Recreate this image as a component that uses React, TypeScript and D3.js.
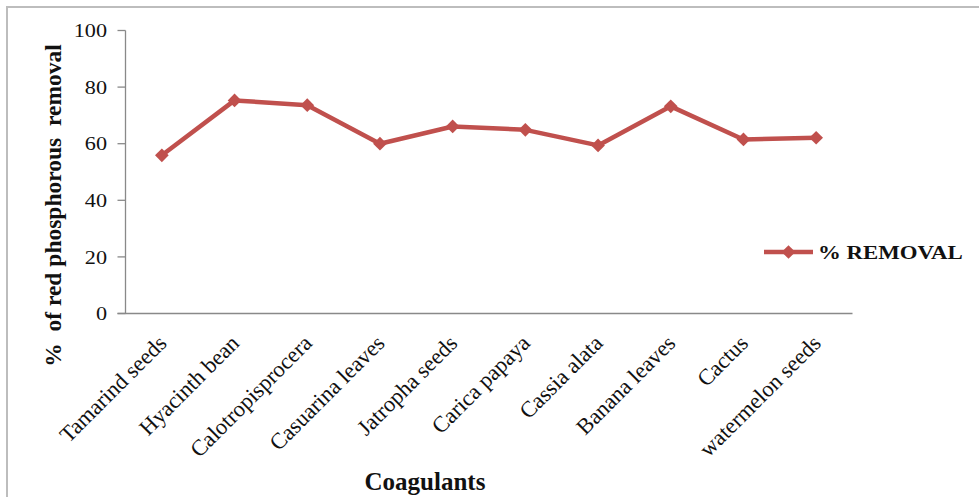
import React from "react";
import * as d3 from "d3";

// Coagulant categories and their % removal of red phosphorous
const categories: string[] = [
  "Tamarind seeds",
  "Hyacinth bean",
  "Calotropisprocera",
  "Casuarina leaves",
  "Jatropha seeds",
  "Carica papaya",
  "Cassia alata",
  "Banana leaves",
  "Cactus",
  "watermelon seeds",
];
const removal: number[] = [55.9, 75.3, 73.6, 60.0, 66.1, 64.9, 59.4, 73.2, 61.5, 62.1];
const yTicks: number[] = [0, 20, 40, 60, 80, 100];
const seriesName = "% REMOVAL";
const xTitle = "Coagulants";
const yTitle = "%  of red phosphorous  removal";

const W = 979;
const H = 497;
const plot = { left: 125.5, right: 852.5, top: 30.5, bottom: 313.5 };
const serif = "'Liberation Serif', 'Times New Roman', serif";
const lineColor = "#C0504D";
const axisColor = "#898989";
const textColor = "#111";
const stretch = 1.17; // horizontal widening of the Times-style glyphs

export default function App() {
  const x = d3
    .scaleBand<string>()
    .domain(categories)
    .range([plot.left, plot.right])
    .paddingInner(0)
    .paddingOuter(0);
  const y = d3.scaleLinear().domain([0, 100]).range([plot.bottom, plot.top]);
  const cx = (c: string) => (x(c) ?? 0) + x.bandwidth() / 2;

  const line = d3
    .line<number>()
    .x((_, i) => cx(categories[i]))
    .y((v) => y(v));

  const diamond = d3.symbol().type(d3.symbolDiamond2).size(120)();

  return (
    <div style={{ position: "absolute", left: 0, top: 0 }}>
      <svg width={W} height={H} style={{ display: "block", background: "#fff" }}>
        {/* frame */}
        <rect x={7} y={7} width={W + 20} height={H + 20} fill="none" stroke="#bdbdbd" strokeWidth={2} />

        {/* y axis */}
        <line x1={plot.left} x2={plot.left} y1={plot.top} y2={plot.bottom} stroke={axisColor} strokeWidth={1.3} />
        {yTicks.map((t) => (
          <g key={t}>
            <line x1={plot.left - 8} x2={plot.left} y1={y(t)} y2={y(t)} stroke={axisColor} strokeWidth={1.3} />
            <text
              transform={`translate(107,${y(t)}) scale(${stretch},1)`}
              dy="0.35em"
              textAnchor="end"
              fontFamily={serif}
              fontSize={19}
              fill={textColor}
            >
              {t}
            </text>
          </g>
        ))}

        {/* x axis */}
        <line x1={plot.left - 8} x2={plot.right} y1={plot.bottom} y2={plot.bottom} stroke={axisColor} strokeWidth={1.3} />
        {categories.map((c) => (
          <text
            key={c}
            transform={`translate(${cx(c) + 6},${plot.bottom + 31}) rotate(-45)`}
            textAnchor="end"
            fontFamily={serif}
            fontSize={22.5}
            fill={textColor}
          >
            {c}
          </text>
        ))}

        {/* series */}
        <path d={line(removal) ?? ""} fill="none" stroke={lineColor} strokeWidth={4.5} strokeLinejoin="round" />
        {removal.map((v, i) => (
          <path
            key={categories[i]}
            d={diamond ?? ""}
            transform={`translate(${cx(categories[i])},${y(v)})`}
            fill={lineColor}
          />
        ))}

        {/* titles */}
        <text
          x={425}
          y={490}
          textAnchor="middle"
          fontFamily={serif}
          fontSize={25}
          fontWeight="bold"
          fill={textColor}
        >
          {xTitle}
        </text>
        <text
          transform={`translate(61,${(38 + 373) / 2}) rotate(-90)`}
          textAnchor="middle"
          fontFamily={serif}
          fontSize={23.5}
          fontWeight="bold"
          fill={textColor}
          style={{ whiteSpace: "pre" }}
        >
          {yTitle}
        </text>

        {/* legend */}
        <g transform="translate(764,252)">
          <line x1={0} x2={49} y1={0} y2={0} stroke={lineColor} strokeWidth={4.5} />
          <path d={diamond ?? ""} transform="translate(24.5,0)" fill={lineColor} />
          <text
            transform={`translate(54,0) scale(${stretch},1)`}
            dy="0.35em"
            fontFamily={serif}
            fontSize={19.5}
            fontWeight="bold"
            fill={textColor}
          >
            {seriesName}
          </text>
        </g>
      </svg>
    </div>
  );
}
